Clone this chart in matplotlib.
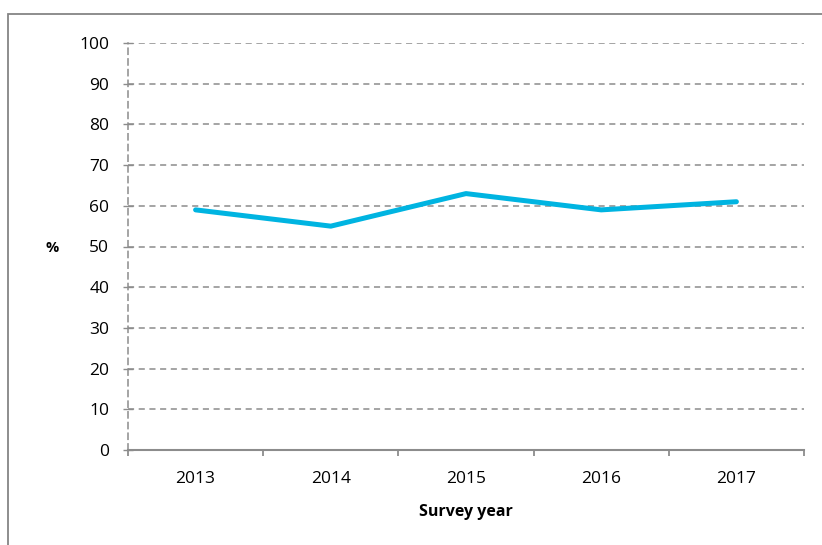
import matplotlib.pyplot as plt
from matplotlib.patches import Rectangle

years = ["2013", "2014", "2015", "2016", "2017"]
values = [59, 55, 63, 59, 61]

plt.rcParams['font.family'] = ['Open Sans', 'DejaVu Sans']

W, H = 822, 545
fig = plt.figure(figsize=(W / 100, H / 100), dpi=100)
ax = fig.add_axes([128 / W, (H - 450) / H, (804 - 128) / W, (450 - 43) / H])

grey = '#8c8c8c'
x = list(range(len(years)))
ax.plot(x, values, color='#00b4e1', lw=3.6, solid_capstyle='round',
        solid_joinstyle='round', zorder=3)

ax.set_xlim(-0.5, len(years) - 0.5)
ax.set_ylim(0, 100)
ax.set_yticks(range(0, 101, 10))
ax.yaxis.grid(True, color=grey, ls=(0, (4, 3)), lw=1.1)

ax.set_xticks([i - 0.5 for i in range(len(years) + 1)])
ax.set_xticklabels([])
ax.set_xticks(x, minor=True)
ax.set_xticklabels(years, minor=True)
ax.tick_params(axis='x', which='major', direction='out', length=4, width=1.3, color=grey)
ax.tick_params(axis='x', which='minor', length=0, pad=15, labelsize=12.5)
ax.tick_params(axis='y', direction='inout', length=7, width=1, color=grey,
               labelsize=12.5, pad=10)

for s in ['top', 'right']:
    ax.spines[s].set_visible(False)
ax.spines['bottom'].set_color(grey)
ax.spines['bottom'].set_linewidth(1.5)
ax.spines['left'].set_color(grey)
ax.spines['left'].set_linestyle((0, (4, 3)))
ax.spines['left'].set_linewidth(1.1)

fig.text(52 / W, 1 - 248 / H, '%', fontsize=10.5, fontweight='bold', ha='center', va='center')
fig.text(466 / W, 1 - 512 / H, 'Survey year', fontsize=11.5, fontweight='bold',
         ha='center', va='center')

fig.patches.append(Rectangle((8 / W, -0.05), 1.1, 1 - 14 / H + 0.05,
                             transform=fig.transFigure, fill=False,
                             edgecolor='#858585', lw=1.3))

fig.savefig('out.png', dpi=100)
